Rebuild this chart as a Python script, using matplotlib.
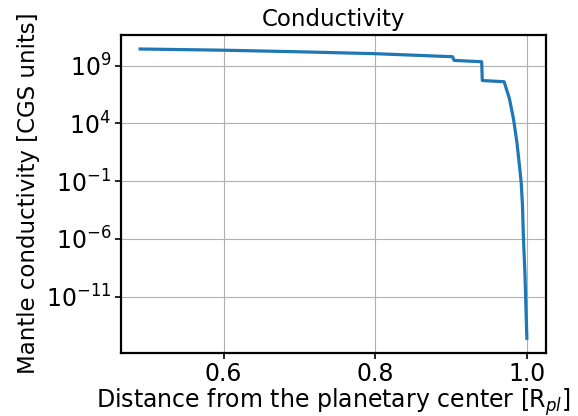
import matplotlib
matplotlib.use("Agg")
import matplotlib.pyplot as plt

# Distance from planetary center [R_pl]
radius = [0.49, 0.60, 0.70, 0.80, 0.902, 0.904, 0.9404, 0.9412, 0.970,
          0.977, 0.9823, 0.9868, 0.9902, 0.9925, 0.9942, 0.9955, 0.9974,
          0.9987, 1.0]
# Mantle conductivity [CGS units]
conductivity = [2.8e10, 2.2e10, 1.6e10, 1.1e10, 6.0e9, 2.9e9, 2.2e9, 5.2e7,
                4.1e7, 1.4e6, 2.6e4, 2.5e2, 2.3e0, 7.9e-2, 7.9e-4, 1.0e-6,
                1.3e-9, 1.6e-12, 2.5e-15]

fig = plt.figure(figsize=(5.78, 4.16), dpi=100)
ax = fig.add_axes([0.209, 0.152, 0.736, 0.765])
ax.plot(radius, conductivity, color="#1f77b4", lw=2.3)
ax.set_yscale("log")
ax.set_yticks([1e9, 1e4, 1e-1, 1e-6, 1e-11])
ax.minorticks_off()
ax.set_xticks([0.6, 0.8, 1.0])
ax.grid(True, color="#b0b0b0", lw=0.8)
for s in ax.spines.values():
    s.set_linewidth(1.6)
ax.tick_params(labelsize=17, width=1.2, length=4, pad=3)
ax.set_title("Conductivity", fontsize=16.5)
ax.set_xlabel(r"Distance from the planetary center [R$_{pl}$]", fontsize=17,
              labelpad=0)
ax.set_ylabel("Mantle conductivity [CGS units]", fontsize=16.5)
fig.savefig("out.png", dpi=100)
